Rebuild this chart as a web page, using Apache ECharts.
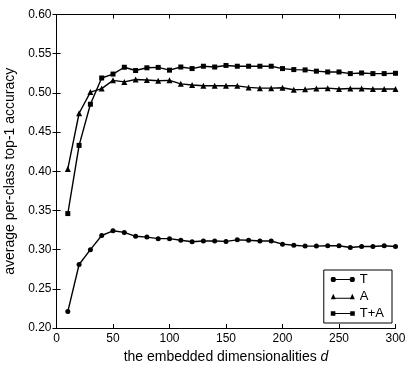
<!DOCTYPE html>
<html>
<head>
<meta charset="utf-8">
<script src="https://cdn.jsdelivr.net/npm/echarts@6/dist/echarts.min.js"></script>
<style>
  html, body { margin: 0; padding: 0; background: #fff; }
  #chart { width: 415px; height: 374px; }
</style>
</head>
<body>
<div id="chart"></div>
<script type="text/javascript">
  // embedded dimensionalities d
  var dims = [10, 20, 30, 40, 50, 60, 70, 80, 90, 100, 110, 120, 130, 140, 150,
              160, 170, 180, 190, 200, 210, 220, 230, 240, 250, 260, 270, 280, 290, 300];
  var accT = [0.221, 0.281, 0.300, 0.318, 0.324, 0.322, 0.317, 0.316, 0.314, 0.314,
              0.312, 0.310, 0.311, 0.311, 0.3105, 0.3125, 0.312, 0.311, 0.311, 0.307,
              0.3056, 0.3045, 0.3045, 0.305, 0.305, 0.3027, 0.304, 0.304, 0.305, 0.304];
  var accA = [0.403, 0.474, 0.501, 0.5055, 0.516, 0.514, 0.517, 0.5165, 0.5155, 0.516,
              0.5115, 0.510, 0.509, 0.509, 0.509, 0.509, 0.507, 0.506, 0.506, 0.5065,
              0.504, 0.5045, 0.5055, 0.506, 0.505, 0.5055, 0.5055, 0.505, 0.505, 0.505];
  var accTA = [0.346, 0.433, 0.4855, 0.519, 0.524, 0.5327, 0.5285, 0.532, 0.5325, 0.529,
               0.533, 0.531, 0.534, 0.533, 0.535, 0.534, 0.534, 0.534, 0.534, 0.531,
               0.5297, 0.5293, 0.5277, 0.5267, 0.5267, 0.5246, 0.5254, 0.5246, 0.5246, 0.525];
  var seriesNames = ['T', 'A', 'T+A'];

  function pairs(vals) {
    return dims.map(function (d, i) { return [d, vals[i]]; });
  }

  // legend icons: line with a marker on each end
  var iconT = 'path://M2,3 L22,3 L22,4 L2,4 Z ' +
    'M1,1 L4,1 L5,2.2 L5,4.8 L4,6 L1,6 L0,4.8 L0,2.2 Z ' +
    'M20,1 L23,1 L24,2.2 L24,4.8 L23,6 L20,6 L19,4.8 L19,2.2 Z';
  var iconA = 'path://M2,5 L22,5 L22,6 L2,6 Z M0,6.5 L2.5,1 L5,6.5 Z M19,6.5 L21.5,1 L24,6.5 Z';
  var iconTA = 'path://M2,3 L22,3 L22,4 L2,4 Z M0,1.2 L4.6,1.2 L4.6,5.8 L0,5.8 Z M19.4,1.2 L24,1.2 L24,5.8 L19.4,5.8 Z';

  var font = 'Liberation Sans';
  var tickStyle = { show: true, inside: true, length: 4, lineStyle: { color: '#000', width: 1 } };
  var lineAxis = { show: true, lineStyle: { color: '#000', width: 1 } };

  var myChart = echarts.init(document.getElementById('chart'));
  var option = {
    backgroundColor: '#fff',
    animation: false,
    textStyle: { fontFamily: font },
    grid: { left: 56.5, right: 19.5, top: 14.5, bottom: 46, outerBoundsMode: 'none', containLabel: false },
    legend: {
      right: 23, bottom: 51,
      orient: 'vertical',
      backgroundColor: '#fff',
      borderColor: '#000', borderWidth: 1,
      padding: [3, 8, 3, 7],
      itemGap: 4,
      itemWidth: 24, itemHeight: 7,
      textStyle: { fontFamily: font, fontSize: 13, color: '#000' },
      data: [
        { name: 'T', icon: iconT },
        { name: 'A', icon: iconA },
        { name: 'T+A', icon: iconTA }
      ]
    },
    xAxis: [{
      type: 'value', min: 0, max: 300, interval: 50,
      name: 'the embedded dimensionalities {i|d}',
      nameLocation: 'middle', nameGap: 20,
      nameTextStyle: {
        fontFamily: font, fontSize: 14, color: '#000',
        rich: { i: { fontFamily: font, fontSize: 14, fontStyle: 'italic', color: '#000' } }
      },
      axisLine: lineAxis, axisTick: tickStyle,
      axisLabel: { fontFamily: font, fontSize: 12, color: '#000', margin: 5 },
      splitLine: { show: false }
    }, {
      type: 'value', min: 0, max: 300, interval: 50, position: 'top',
      axisLine: lineAxis, axisTick: tickStyle,
      axisLabel: { show: false }, splitLine: { show: false }
    }],
    yAxis: [{
      type: 'value', min: 0.2, max: 0.6, interval: 0.05,
      name: 'average per-class top-1 accuracy',
      nameLocation: 'middle', nameGap: 35,
      nameTextStyle: { fontFamily: font, fontSize: 14, color: '#000' },
      axisLine: lineAxis, axisTick: tickStyle,
      axisLabel: {
        fontFamily: font, fontSize: 12, color: '#000', margin: 5,
        formatter: function (v) { return v.toFixed(2); }
      },
      splitLine: { show: false }
    }, {
      type: 'value', min: 0.2, max: 0.6, interval: 0.05, position: 'right',
      axisLine: lineAxis, axisTick: tickStyle,
      axisLabel: { show: false }, splitLine: { show: false }
    }],
    series: [
      {
        name: seriesNames[0], type: 'line', data: pairs(accT),
        symbol: 'circle', symbolSize: 5,
        lineStyle: { color: '#000', width: 1.4 }, itemStyle: { color: '#000' }
      },
      {
        name: seriesNames[1], type: 'line', data: pairs(accA),
        symbol: 'triangle', symbolSize: 6,
        lineStyle: { color: '#000', width: 1.4 }, itemStyle: { color: '#000' }
      },
      {
        name: seriesNames[2], type: 'line', data: pairs(accTA),
        symbol: 'rect', symbolSize: 5,
        lineStyle: { color: '#000', width: 1.4 }, itemStyle: { color: '#000' }
      }
    ]
  };
  myChart.setOption(option);
</script>
</body>
</html>
